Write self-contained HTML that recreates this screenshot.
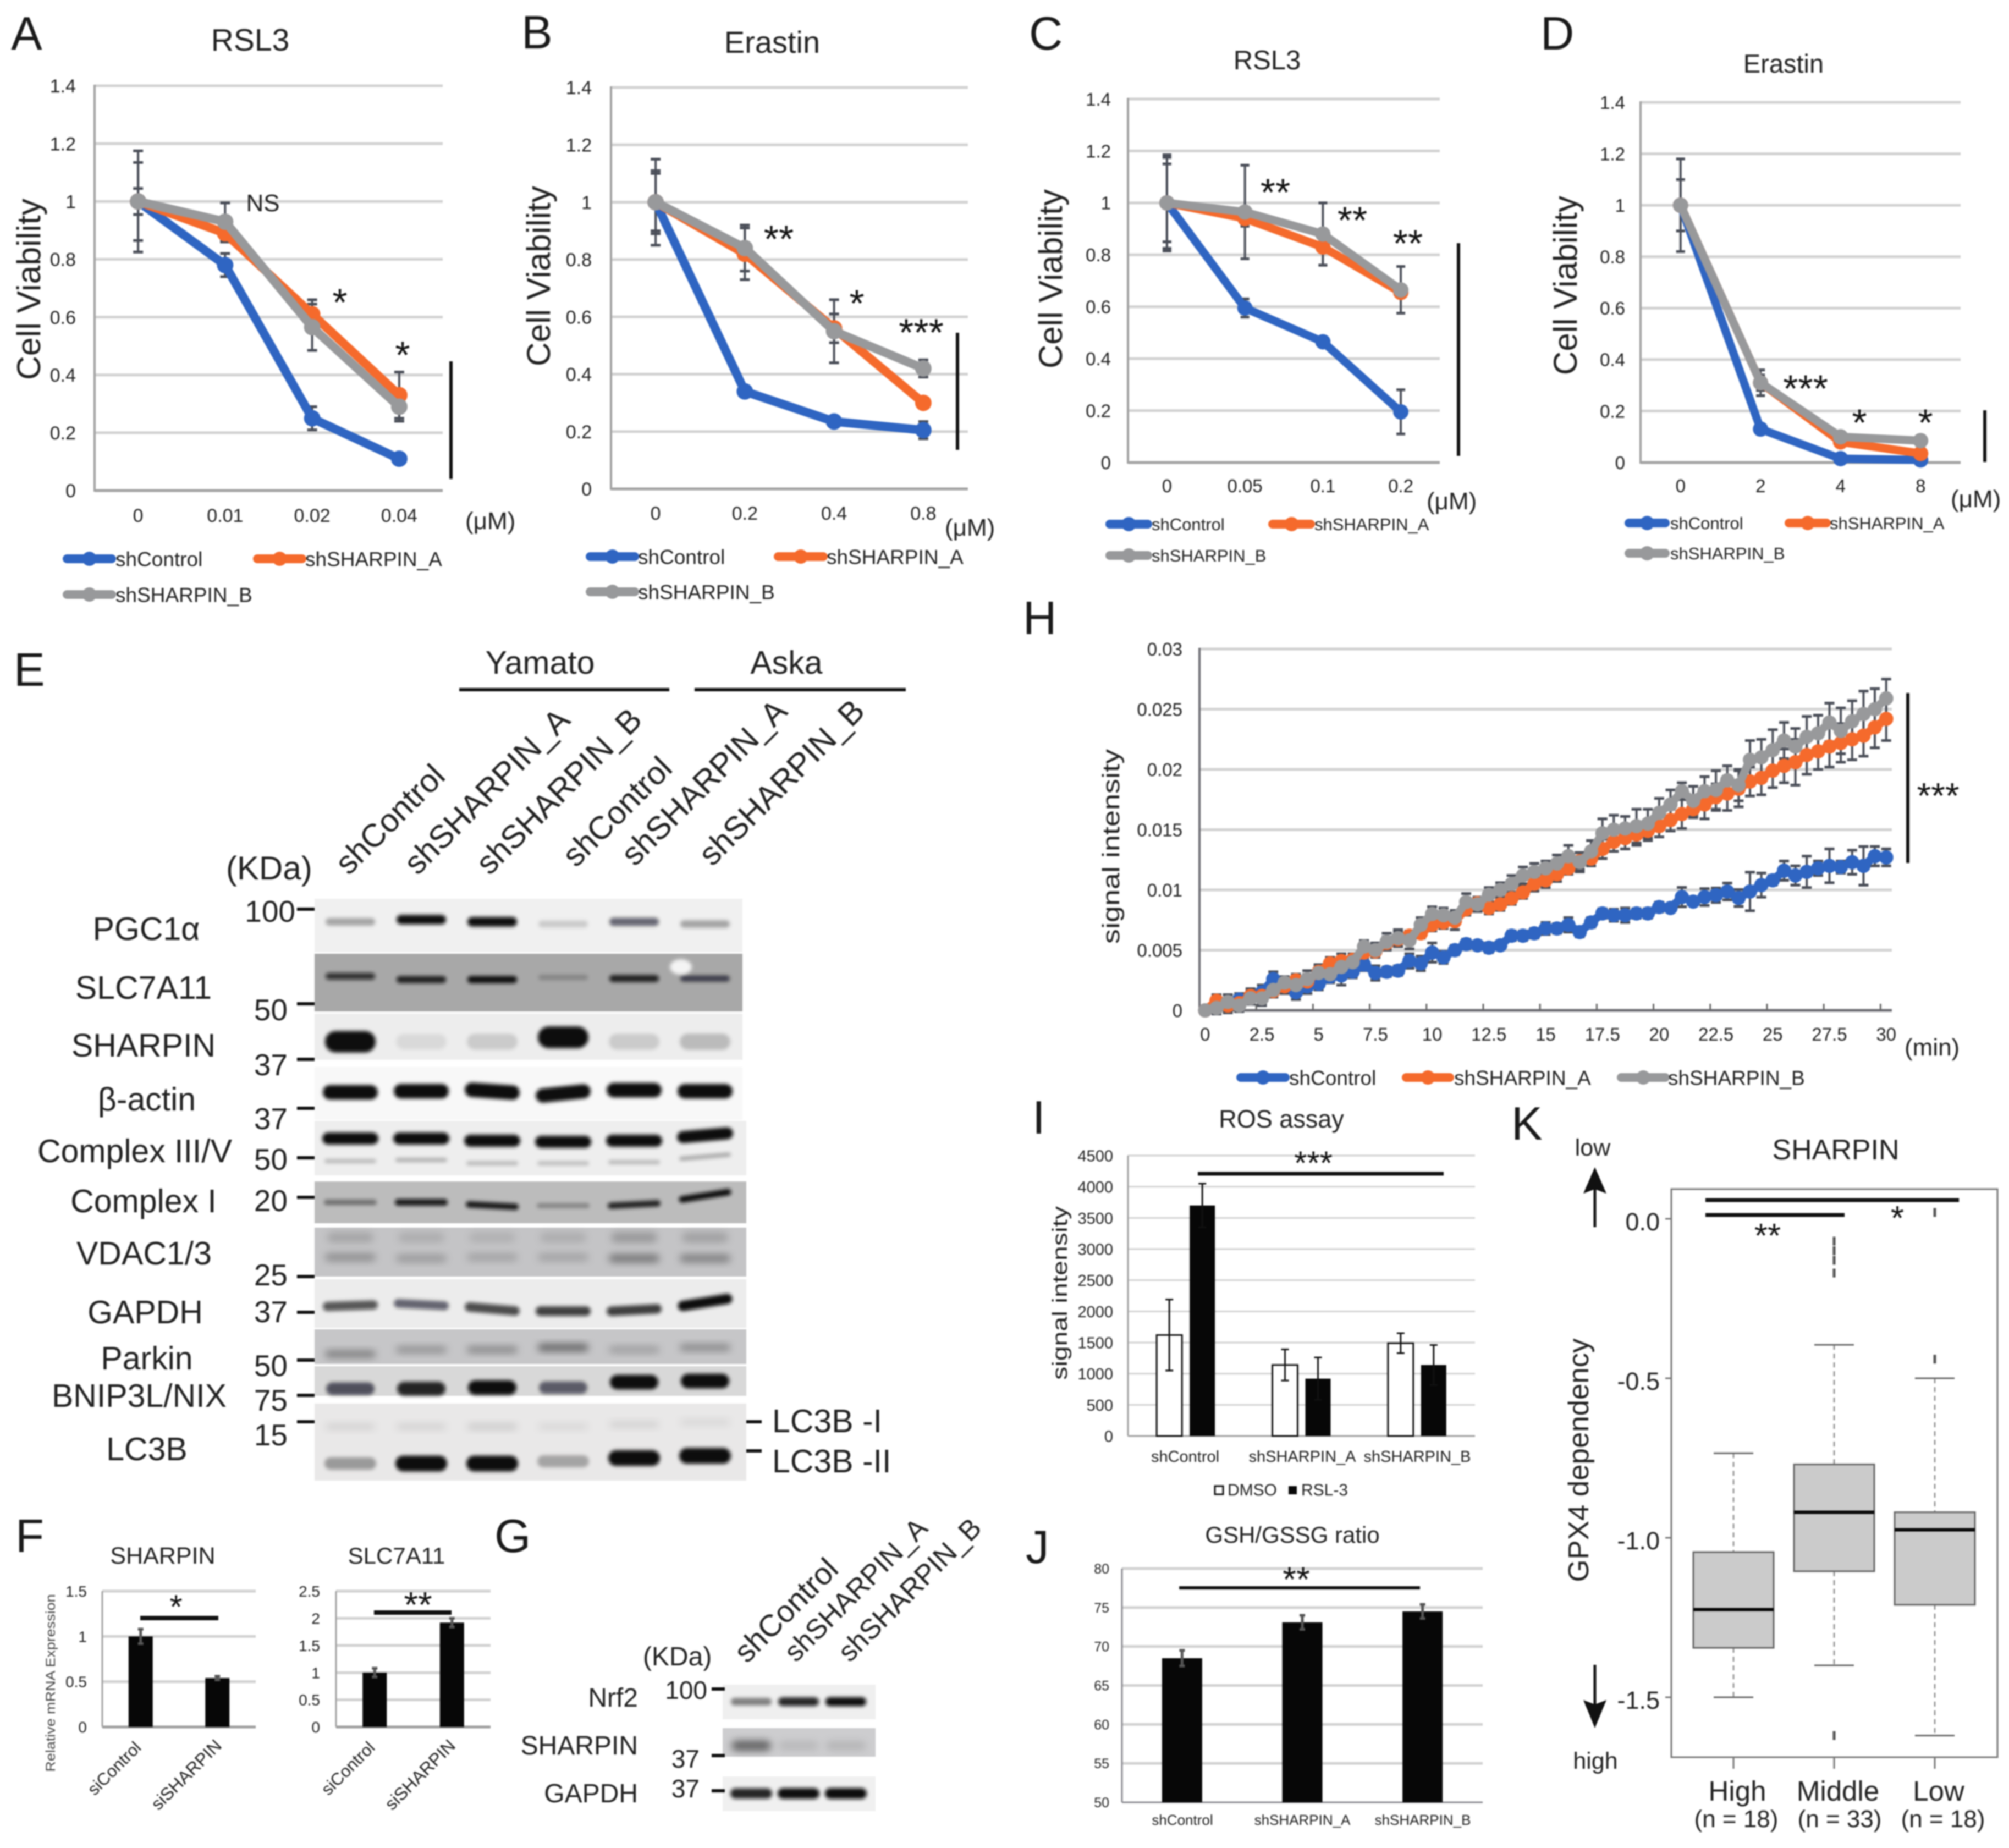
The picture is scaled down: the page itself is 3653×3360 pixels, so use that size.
<!DOCTYPE html>
<html lang="en">
<head>
<meta charset="utf-8">
<title>SHARPIN ferroptosis multi-panel figure</title>
<style>
html,body{margin:0;padding:0;background:#fff;width:3653px;height:3360px;overflow:hidden}
svg{display:block;filter:blur(1.2px)}
text{font-family:"Liberation Sans","DejaVu Sans",sans-serif;fill:#222}
</style>
</head>
<body>
<svg id="fig" xmlns="http://www.w3.org/2000/svg" width="3653" height="3360" viewBox="0 0 3653 3360">
<defs>
<filter id="b3" x="-30%" y="-80%" width="160%" height="260%"><feGaussianBlur stdDeviation="3.5"/></filter>
<filter id="b6" x="-30%" y="-80%" width="160%" height="260%"><feGaussianBlur stdDeviation="7"/></filter>
</defs>
<rect width="3653" height="3360" fill="#fff"/>
</svg>
<script>
/* ---------- chart data ---------- */
const viabilityTicks = ['0','0.2','0.4','0.6','0.8','1','1.2','1.4'];
const seriesNames = ['shControl','shSHARPIN_A','shSHARPIN_B'];

const catsA = ['0','0.01','0.02','0.04'];
const ctrlA = [1,0.78,0.25,0.11];
const shAA = [1,0.89,0.61,0.33];
const shBA = [1,0.93,0.565,0.29];
const errCtrlA = [0.135,0.04,0.04,0.01];
const errShAA = [0.045,0.03,0.05,0.08];
const errShBA = [0.175,0.065,0.08,0.05];

const catsB = ['0','0.2','0.4','0.8'];
const ctrlB = [1,0.34,0.235,0.205];
const shAB = [1,0.82,0.56,0.30];
const shBB = [1,0.84,0.55,0.42];
const errCtrlB = [0.11,0.01,0.01,0.03];
const errShAB = [0.10,0.09,0.05,0.01];
const errShBB = [0.15,0.08,0.11,0.03];

const catsC = ['0','0.05','0.1','0.2'];
const ctrlC = [1,0.595,0.465,0.195];
const shAC = [1,0.94,0.83,0.655];
const shBC = [1,0.965,0.88,0.665];
const errCtrlC = [0.15,0.035,0.01,0.085];
const errShAC = [0.175,0.03,0.07,0.01];
const errShBC = [0.185,0.18,0.12,0.09];

const catsD = ['0','2','4','8'];
const ctrlD = [1,0.13,0.015,0.01];
const shAD = [1,0.31,0.08,0.035];
const shBD = [1,0.31,0.10,0.085];
const errCtrlD = [0.10,0.01,0.01,0.005];
const errShAD = [0.01,0.05,0.01,0.01];
const errShBD = [0.18,0.03,0.015,0.01];

const ticksH = ['0','0.005','0.01','0.015','0.02','0.025','0.03'];
const catsH = ['0','2.5','5','7.5','10','12.5','15','17.5','20','22.5','25','27.5','30'];
const ctrlH = [0,.0003,.0006,.0009,.0011,.0015,.0026,.0020,.0015,.0020,
.0022,.0028,.0029,.0032,.0038,.0031,.0032,.0033,.0041,.0039,
.0048,.0044,.0050,.0055,.0054,.0052,.0054,.0062,.0062,.0064,
.0068,.0068,.0071,.0065,.0073,
.00805,.0079,.0079,.00805,.00805,.00858,.0085,.00941,.00903,.00941,.00956,.00987,.00933,.00987,.0104,.0108,.0116,.0112,.0115,.0118,.0120,.0119,.0123,.0120,.0128,.0127];
const shAH = [0,.0008,.0004,.0006,.0012,.0012,.0016,.0020,.0025,.0024,
.0032,.0039,.0041,.0042,.0048,.0049,.0056,.0059,.0062,.0064,
.0071,.0073,.0074,.0084,.0089,.0085,.0088,.0093,.0098,.0105,
.0108,.0113,.0118,.0124,.0126,
.0134,.0140,.0143,.0146,.0149,.0153,.0158,.0163,.0167,.0171,.0177,.0180,.0184,.0190,.0193,.0199,.0203,.0206,.0212,.0215,.0219,.0222,.0225,.0228,.0235,.0242];
const shBH = [0,.0002,.0007,.0004,.0010,.0010,.0017,.0023,.0021,.0026,
.0031,.0030,.0036,.0040,.0053,.0050,.0057,.0060,.0058,.0071,
.0080,.0079,.0077,.0090,.0088,.0096,.0100,.0105,.0112,.0115,
.0118,.0122,.0128,.0123,.0132,
.0147,.0150,.0151,.0153,.0155,.0164,.0171,.0182,.0174,.0182,.0183,.0191,.0187,.0208,.0210,.0216,.0224,.0219,.0227,.0230,.0239,.0232,.0240,.0246,.0250,.0259];
const errCtrlH = [.0002,.0004,.0004,.0005,.0006,.0006,.0006,.0006,.0006,.0006,
.0005,.0005,.0008,.0005,.0005,.0006,.0004,.0004,.0006,.0006,
.0008,.0005,.0004,.0004,.0003,.0004,.0003,.0004,.0004,.0004,
.0005,.0004,.0006,.0004,.0004,
.0004,.0005,.0006,.0004,.0004,.0004,.0003,.0008,.0003,.0007,.0006,.0007,.0007,.0016,.0010,.0004,.0008,.0008,.0013,.0006,.0014,.0005,.0010,.0016,.0008,.0007];
const errShAH = [.0003,.0005,.0006,.0005,.0006,.0006,.0005,.0005,.0005,.0006,
.0006,.0005,.0006,.0005,.0006,.0005,.0005,.0006,.0004,.0004,
.0005,.0005,.0007,.0005,.0004,.0005,.0005,.0005,.0005,.0006,
.0006,.0006,.0005,.0007,.0006,
.0008,.0008,.0009,.0009,.0008,.0009,.0009,.0012,.0007,.0012,.0011,.0014,.0015,.0012,.0014,.0014,.0014,.0019,.0016,.0015,.0017,.0016,.0017,.0017,.0017,.0018];
const errShBH = [.0003,.0005,.0006,.0005,.0005,.0006,.0006,.0005,.0008,.0007,
.0006,.0007,.0006,.0005,.0005,.0006,.0007,.0007,.0007,.0006,
.0006,.0006,.0006,.0007,.0006,.0006,.0006,.0007,.0007,.0007,
.0006,.0007,.0009,.0008,.0009,
.0012,.0012,.0010,.0014,.0012,.0012,.0012,.0007,.0012,.0012,.0016,.0012,.0013,.0016,.0015,.0017,.0015,.0015,.0017,.0015,.0016,.0019,.0017,.0019,.0017,.0016];

const catsF = ['siControl','siSHARPIN'];
const ticksF1 = ['0','0.5','1','1.5'];
const valsF1 = [1.0,0.54];
const errF1 = [0.08,0.02];
const ticksF2 = ['0','0.5','1','1.5','2','2.5'];
const valsF2 = [1.0,1.92];
const errF2 = [0.08,0.08];

const catsI = ['shControl','shSHARPIN_A','shSHARPIN_B'];
const ticksI = ['0','500','1000','1500','2000','2500','3000','3500','4000','4500'];
const dmsoI = [1620,1140,1490];
const rslI = [3700,920,1140];
const errDmsoI = [570,250,160];
const errRslI = [350,340,320];

const ticksJ = ['50','55','60','65','70','75','80'];
const valsJ = [68.5,73.1,74.5];
const errJ = [1.0,0.9,0.9];

const catsK = ['High','Middle','Low'];
const nK = ['(n = 18)','(n = 33)','(n = 18)'];
const ticksK = ['0.0','-0.5','-1.0','-1.5'];
const whiskHiK = [-0.735,-0.395,-0.5];
const q3K = [-1.045,-0.77,-0.92];
const medianK = [-1.225,-0.92,-0.975];
const q1K = [-1.345,-1.105,-1.21];
const whiskLoK = [-1.5,-1.4,-1.62];
const outliersHighK = [];
const outliersMiddleK = [-0.07,-0.10,-0.13,-0.17,-1.62];
const outliersLowK = [0.02,-0.44];

/* blot band intensities per lane */
const blotPGC = [.3,.95,1,.15,.55,.3];
const blotSLC = [.75,.85,.95,.2,.85,.6];
const blotSHARPIN = [.95,.08,.14,1,.14,.2];
const blotActin = [1,1,1,.95,1,1];
const blotComplex3 = [1,1,1,1,1,1];
const blotComplex3b = [.22,.25,.22,.2,.22,.28];
const blotComplex1 = [.4,.9,.9,.28,.85,1];
const blotVDAC = [.28,.22,.18,.18,.4,.35];
const blotVDACtop = [.16,.12,.1,.12,.22,.18];
const blotGAPDH = [.65,.55,.7,.75,.75,1];
const blotParkin = [.38,.28,.32,.5,.22,.32];
const blotBNIP = [.6,.85,1,.55,1,1];
const blotLC3I = [.1,.1,.13,.08,.1,.08];
const blotLC3II = [.32,1,1,.28,1,1];
const blotGNrf2 = [.45,.85,.95];
const blotGSharpin = [.5,.1,.12];
const blotGGapdh = [.85,.95,1];

/* ---------- helpers ---------- */
const NS = 'http://www.w3.org/2000/svg';
const root = document.getElementById('fig');
const BLUE = '#2f65c2', ORANGE = '#f56a2c', GRAY = '#98999b', GRID = '#d2d2d2', AXIS = '#a2a2a2', ERR = '#4a4e58';

function mark(parent, tag, name, attrs) {
  const el = document.createElementNS(NS, tag);
  
  
  for (const k in attrs) el.setAttribute(k, attrs[k]);
  parent.appendChild(el);
  return el;
}
function group(parent, name) { return mark(parent, 'g', name, {}); }
function seg(p, name, x1, y1, x2, y2, stroke, w, extra) {
  return mark(p, 'line', name, Object.assign({x1, y1, x2, y2, stroke, 'stroke-width': w}, extra || {}));
}
function txt(p, name, s, x, y, size, anchor, opt) {
  opt = opt || {};
  const a = {x, y, 'font-size': size, 'text-anchor': anchor || 'start'};
  if (opt.rot !== undefined) a.transform = 'rotate(' + opt.rot + ' ' + x + ' ' + y + ')';
  if (opt.len) { a.textLength = opt.len; a.lengthAdjust = 'spacingAndGlyphs'; }
  if (opt.fill) a.style = 'fill:' + opt.fill;
  const el = mark(p, 'text', name, a);
  el.textContent = s;
  return el;
}
function stars(p, s, cx, cy, size) {
  size = size || 70;
  return txt(p, 'significance-stars', s, cx, cy + size * 0.48, size, 'middle', {fill: '#111'});
}
function sigLine(p, x1, y1, x2, y2, w) { return seg(p, 'significance-bar', x1, y1, x2, y2, '#111', w || 6); }
function panelLetter(s, x, y) { return txt(root, 'panel-label-' + s.toLowerCase(), s, x, y, 85, 'start', {fill: '#1a1a1a'}); }

/* ---------- line charts ---------- */
function lineChart(c) {
  const g = group(root, 'line-chart-' + c.id);
  const n = c.series[0].vals.length;
  const band = (c.right - c.left) / n;
  const xS = i => c.left + (i + 0.5) * band;
  const yS = v => c.bottom - (v / c.ymax) * (c.bottom - c.top);
  c.ticks.forEach((t, i) => {
    const v = parseFloat(t), y = yS(v);
    if (v > 0) seg(g, 'gridline', c.left, y, c.right, y, GRID, 5);
    txt(g, 'y-tick-label', t, c.tickRight, y + c.tickSize * 0.36, c.tickSize, 'end');
  });
  seg(g, 'y-axis', c.left, c.top - 2, c.left, c.bottom + 2, c.axisColor || AXIS, 4);
  seg(g, 'x-axis', c.left, c.bottom, c.right, c.bottom, c.axisColor || AXIS, 5);
  if (c.everyTick) {
    for (let i = 1; i * c.everyTick <= n; i++) {
      const x = c.left + i * c.everyTick * band;
      seg(g, 'x-tick', x, c.bottom - 12, x, c.bottom, '#666', 3);
    }
  }
  c.cats.forEach((t, i) => {
    const idx = c.everyTick ? i * c.everyTick : i;
    txt(g, 'x-tick-label', t, xS(idx), c.xLabelY, c.tickSize, 'middle');
  });
  const errLayer = group(g, 'error-bars');
  c.series.forEach(s => {
    s.vals.forEach((v, i) => {
      const x = xS(i), e = s.errs[i];
      seg(errLayer, 'error-bar', x, yS(v + e), x, yS(v - e), ERR, 4);
      seg(errLayer, 'error-cap', x - c.cap, yS(v + e), x + c.cap, yS(v + e), ERR, 5);
      seg(errLayer, 'error-cap', x - c.cap, yS(v - e), x + c.cap, yS(v - e), ERR, 5);
    });
  });
  c.series.forEach(s => {
    const sg = group(g, 'series-' + s.name);
    const pts = s.vals.map((v, i) => xS(i).toFixed(1) + ',' + yS(v).toFixed(1)).join(' ');
    mark(sg, 'polyline', 'line-' + s.name, {points: pts, fill: 'none', stroke: s.color, 'stroke-width': c.lw, 'stroke-linejoin': 'round'});
    s.vals.forEach((v, i) => {
      mark(sg, 'circle', 'point-' + s.name, {cx: xS(i), cy: yS(v), r: c.r, fill: s.color});
    });
  });
  return g;
}
function legendEntry(p, name, color, x1, x2, y, size, tx) {
  const g = group(p, 'legend-entry-' + name);
  seg(g, 'legend-line', x1, y, x2, y, color, 16, {'stroke-linecap': 'round'});
  mark(g, 'circle', 'legend-marker', {cx: (x1 + x2) / 2, cy: y, r: 13, fill: color});
  txt(g, 'legend-label', name, tx, y + size * 0.36, size, 'start');
}
function series3(c, a, b, ec, ea, eb) {
  return [
    {name: seriesNames[0], vals: c, errs: ec, color: BLUE},
    {name: seriesNames[1], vals: a, errs: ea, color: ORANGE},
    {name: seriesNames[2], vals: b, errs: eb, color: GRAY}
  ];
}

/* Panel A */
panelLetter('A', 20, 90);
txt(root, 'chart-title-a', 'RSL3', 455, 92, 57, 'middle');
txt(root, 'y-axis-title-a', 'Cell Viability', 73, 526, 60, 'middle', {rot: -90, len: 330});
lineChart({id: 'a', left: 172, right: 805, top: 156, bottom: 892, ymax: 1.4, ticks: viabilityTicks, cats: catsA, tickRight: 138, tickSize: 34, xLabelY: 949, cap: 9, lw: 16, r: 15, series: series3(ctrlA, shAA, shBA, errCtrlA, errShAA, errShBA)});
txt(root, 'x-unit-a', '(μM)', 846, 962, 44);
txt(root, 'ns-label', 'NS', 478, 384, 44, 'middle');
stars(root, '*', 618, 540); stars(root, '*', 732, 636);
sigLine(root, 820, 657, 820, 871, 6);
legendEntry(root, 'shControl', BLUE, 122, 203, 1016, 37, 210);
legendEntry(root, 'shSHARPIN_A', ORANGE, 468, 549, 1016, 37, 555);
legendEntry(root, 'shSHARPIN_B', GRAY, 122, 203, 1081, 37, 210);

/* Panel B */
panelLetter('B', 948, 88);
txt(root, 'chart-title-b', 'Erastin', 1404, 96, 56, 'middle');
txt(root, 'y-axis-title-b', 'Cell Viability', 1000, 502, 60, 'middle', {rot: -90, len: 328});
lineChart({id: 'b', left: 1111, right: 1760, top: 159, bottom: 889, ymax: 1.4, ticks: viabilityTicks, cats: catsB, tickRight: 1076, tickSize: 34, xLabelY: 945, cap: 9, lw: 16, r: 15, series: series3(ctrlB, shAB, shBB, errCtrlB, errShAB, errShBB)});
txt(root, 'x-unit-b', '(μM)', 1718, 974, 44);
stars(root, '**', 1416, 425); stars(root, '*', 1558, 542); stars(root, '***', 1675, 595);
sigLine(root, 1741, 605, 1741, 818, 6);
legendEntry(root, 'shControl', BLUE, 1073, 1154, 1012, 37, 1160);
legendEntry(root, 'shSHARPIN_A', ORANGE, 1415, 1497, 1012, 37, 1503);
legendEntry(root, 'shSHARPIN_B', GRAY, 1073, 1154, 1076, 37, 1160);

/* Panel C */
panelLetter('C', 1871, 90);
txt(root, 'chart-title-c', 'RSL3', 2304, 126, 49, 'middle');
txt(root, 'y-axis-title-c', 'Cell Viability', 1931, 507, 60, 'middle', {rot: -90, len: 326});
lineChart({id: 'c', left: 2051, right: 2618, top: 180, bottom: 841, ymax: 1.4, ticks: viabilityTicks, cats: catsC, tickRight: 2020, tickSize: 33, xLabelY: 895, cap: 8, lw: 15, r: 14, series: series3(ctrlC, shAC, shBC, errCtrlC, errShAC, errShBC)});
txt(root, 'x-unit-c', '(μM)', 2594, 926, 44);
stars(root, '**', 2319, 340); stars(root, '**', 2459, 391); stars(root, '**', 2560, 433);
sigLine(root, 2652, 442, 2652, 829, 6);
legendEntry(root, 'shControl', BLUE, 2018, 2087, 953, 31, 2094);
legendEntry(root, 'shSHARPIN_A', ORANGE, 2314, 2383, 953, 31, 2390);
legendEntry(root, 'shSHARPIN_B', GRAY, 2018, 2087, 1010, 31, 2094);

/* Panel D */
panelLetter('D', 2801, 90);
txt(root, 'chart-title-d', 'Erastin', 3243, 132, 47, 'middle');
txt(root, 'y-axis-title-d', 'Cell Viability', 2867, 519, 60, 'middle', {rot: -90, len: 326});
lineChart({id: 'd', left: 2983, right: 3565, top: 186, bottom: 841, ymax: 1.4, ticks: viabilityTicks, cats: catsD, tickRight: 2955, tickSize: 33, xLabelY: 895, cap: 8, lw: 15, r: 14, series: series3(ctrlD, shAD, shBD, errCtrlD, errShAD, errShBD)});
txt(root, 'x-unit-d', '(μM)', 3547, 922, 44);
stars(root, '***', 3283, 697); stars(root, '*', 3381, 759); stars(root, '*', 3501, 759);
sigLine(root, 3609, 746, 3609, 840, 6);
legendEntry(root, 'shControl', BLUE, 2962, 3028, 951, 31, 3037);
legendEntry(root, 'shSHARPIN_A', ORANGE, 3253, 3321, 951, 31, 3327);
legendEntry(root, 'shSHARPIN_B', GRAY, 2962, 3028, 1006, 31, 3037);

/* Panel H */
panelLetter('H', 1860, 1153);
txt(root, 'y-axis-title-h', 'signal intensity', 2035, 1539, 44, 'middle', {rot: -90, len: 354});
lineChart({id: 'h', left: 2181, right: 3440, top: 1180, bottom: 1837, ymax: 0.03, ticks: ticksH, cats: catsH, everyTick: 5, tickRight: 2150, tickSize: 33, xLabelY: 1892, cap: 9, lw: 15, r: 13, axisColor: '#6e6e74', series: series3(ctrlH, shAH, shBH, errCtrlH, errShAH, errShBH)});
txt(root, 'x-unit-h', '(min)', 3463, 1919, 44);
sigLine(root, 3469, 1260, 3469, 1569, 6);
stars(root, '***', 3524, 1438, 66);
legendEntry(root, 'shControl', BLUE, 2256, 2337, 1959, 37, 2344);
legendEntry(root, 'shSHARPIN_A', ORANGE, 2557, 2636, 1959, 37, 2644);
legendEntry(root, 'shSHARPIN_B', GRAY, 2948, 3028, 1959, 37, 3033);

/* ---------- bar charts ---------- */
function barChart(c) {
  const g = group(root, 'bar-chart-' + c.id);
  const n = c.groups.length;
  const band = (c.right - c.left) / n;
  const yS = v => c.bottom - ((v - c.ymin) / (c.ymax - c.ymin)) * (c.bottom - c.top);
  c.ticks.forEach(t => {
    const v = parseFloat(t), y = yS(v);
    if (v > c.ymin) seg(g, 'gridline', c.left, y, c.right, y, c.gridColor || GRID, c.gridW || 5);
    txt(g, 'y-tick-label', t, c.tickRight, y + c.tickSize * 0.36, c.tickSize, 'end');
  });
  seg(g, 'y-axis', c.left, c.top, c.left, c.bottom, c.axisColor || AXIS, c.axisW || 3);
  seg(g, 'x-axis', c.left, c.bottom, c.right, c.bottom, c.axisColor || AXIS, c.baseW || 5);
  c.groups.forEach((name, i) => {
    const gc = c.left + (i + 0.5) * band;
    c.series.forEach((s, k) => {
      const x = gc + (c.offsets ? c.offsets[k] : 0);
      const v = s.vals[i], e = s.errs[i];
      mark(g, 'rect', 'bar-' + s.name + '-' + name, {x: x - c.barW / 2, y: yS(v), width: c.barW, height: c.bottom - yS(v), fill: s.fill, stroke: s.stroke || 'none', 'stroke-width': s.stroke ? 3 : 0});
      seg(g, 'error-bar', x, yS(v + e), x, yS(v - e), c.errColor, c.errW);
      seg(g, 'error-cap', x - c.cap, yS(v + e), x + c.cap, yS(v + e), c.errColor, c.errW);
      seg(g, 'error-cap', x - c.cap, yS(v - e), x + c.cap, yS(v - e), c.errColor, c.errW);
    });
  });
  return g;
}

/* Panel F */
panelLetter('F', 28, 2822);
txt(root, 'chart-title-f1', 'SHARPIN', 296, 2843, 43, 'middle');
txt(root, 'chart-title-f2', 'SLC7A11', 721, 2843, 42, 'middle');
txt(root, 'y-axis-title-f', 'Relative mRNA Expression', 100, 3060, 24, 'middle', {rot: -90, len: 323, fill: '#444'});
barChart({id: 'f1', left: 186, right: 465, top: 2893, bottom: 3140, ymin: 0, ymax: 1.5, ticks: ticksF1, groups: catsF, tickRight: 158, tickSize: 28, barW: 44, cap: 5, errColor: '#555', errW: 5,
  series: [{name: 'expression', vals: valsF1, errs: errF1, fill: '#070707'}]});
barChart({id: 'f2', left: 611, right: 892, top: 2893, bottom: 3140, ymin: 0, ymax: 2.5, ticks: ticksF2, groups: catsF, tickRight: 582, tickSize: 28, barW: 44, cap: 5, errColor: '#555', errW: 5,
  series: [{name: 'expression', vals: valsF2, errs: errF2, fill: '#070707'}]});
txt(root, 'x-tick-label', catsF[0], 172, 3266, 31, 'start', {rot: -45});
txt(root, 'x-tick-label', catsF[1], 288, 3293, 32, 'start', {rot: -45});
txt(root, 'x-tick-label', catsF[0], 597, 3266, 31, 'start', {rot: -45});
txt(root, 'x-tick-label', catsF[1], 713, 3293, 32, 'start', {rot: -45});
stars(root, '*', 320, 2913, 60); sigLine(root, 255, 2942, 397, 2942, 8);
stars(root, '**', 760, 2909, 66); sigLine(root, 680, 2932, 821, 2932, 8);

/* Panel I */
panelLetter('I', 1877, 2061);
txt(root, 'chart-title-i', 'ROS assay', 2330, 2050, 45, 'middle');
txt(root, 'y-axis-title-i', 'signal intensity', 1940, 2351, 38, 'middle', {rot: -90, len: 316});
barChart({id: 'i', left: 2051, right: 2682, top: 2101, bottom: 2611, ymin: 0, ymax: 4500, ticks: ticksI, groups: catsI, tickRight: 2024, tickSize: 29, barW: 46, offsets: [-30, 30], cap: 7, errColor: '#111', errW: 3, gridW: 3, axisW: 3, baseW: 3,
  series: [
    {name: 'DMSO', vals: dmsoI, errs: errDmsoI, fill: '#fff', stroke: '#111'},
    {name: 'RSL-3', vals: rslI, errs: errRslI, fill: '#070707'}
  ]});
catsI.forEach((c, i) => {
  txt(root, 'x-tick-label', c, [2155, 2368, 2577][i], 2658, 29, 'middle');
});
mark(root, 'rect', 'legend-swatch-dmso', {x: 2209, y: 2702, width: 15, height: 15, fill: '#fff', stroke: '#111', 'stroke-width': 3});
txt(root, 'legend-label-dmso', 'DMSO', 2232, 2719, 30);
mark(root, 'rect', 'legend-swatch-rsl3', {x: 2343, y: 2702, width: 15, height: 15, fill: '#070707'});
txt(root, 'legend-label-rsl3', 'RSL-3', 2366, 2719, 30);
sigLine(root, 2178, 2134, 2625, 2134, 7);
stars(root, '***', 2388, 2106, 60);

/* Panel J */
panelLetter('J', 1865, 2842);
txt(root, 'chart-title-j', 'GSH/GSSG ratio', 2350, 2805, 42, 'middle');
barChart({id: 'j', left: 2040, right: 2696, top: 2852, bottom: 3277, ymin: 50, ymax: 80, ticks: ticksJ, groups: catsI, tickRight: 2017, tickSize: 25, barW: 73, cap: 5, errColor: '#555', errW: 5, gridW: 5, axisW: 3, baseW: 3, axisColor: '#8a8a90',
  series: [{name: 'ratio', vals: valsJ, errs: errJ, fill: '#070707'}]});
catsI.forEach((c, i) => {
  txt(root, 'x-tick-label', c, [2150, 2368, 2587][i], 3318, 26, 'middle');
});
sigLine(root, 2144, 2887, 2582, 2887, 6);
stars(root, '**', 2357, 2863, 64);

/* ---------- Panel K boxplot ---------- */
panelLetter('K', 2748, 2072);
(function () {
  const g = group(root, 'boxplot-k');
  const yS = v => 2216 - v * 580;
  const xS = i => 3152 + i * 183;
  const halfBox = 73, halfCap = 36;
  txt(g, 'chart-title-k', 'SHARPIN', 3338, 2108, 52, 'middle');
  mark(g, 'rect', 'plot-frame', {x: 3039, y: 2162, width: 593, height: 1033, fill: 'none', stroke: '#777', 'stroke-width': 3});
  ticksK.forEach(t => {
    const y = yS(parseFloat(t));
    seg(g, 'y-tick', 3028, y, 3039, y, '#777', 3);
    txt(g, 'y-tick-label', t, 3018, y + 21, 45, 'end');
  });
  const outs = [outliersHighK, outliersMiddleK, outliersLowK];
  catsK.forEach((c, i) => {
    const x = xS(i);
    seg(g, 'whisker-upper', x, yS(whiskHiK[i]), x, yS(q3K[i]), '#888', 2.5, {'stroke-dasharray': '9 7'});
    seg(g, 'whisker-lower', x, yS(q1K[i]), x, yS(whiskLoK[i]), '#888', 2.5, {'stroke-dasharray': '9 7'});
    seg(g, 'whisker-cap', x - halfCap, yS(whiskHiK[i]), x + halfCap, yS(whiskHiK[i]), '#666', 3);
    seg(g, 'whisker-cap', x - halfCap, yS(whiskLoK[i]), x + halfCap, yS(whiskLoK[i]), '#666', 3);
    mark(g, 'rect', 'box-' + c.toLowerCase(), {x: x - halfBox, y: yS(q3K[i]), width: 2 * halfBox, height: yS(q1K[i]) - yS(q3K[i]), fill: '#cbcbcb', stroke: '#666', 'stroke-width': 3});
    seg(g, 'median-' + c.toLowerCase(), x - halfBox, yS(medianK[i]), x + halfBox, yS(medianK[i]), '#050505', 6);
    outs[i].forEach(v => {
      mark(g, 'rect', 'outlier', {x: x - 2.5, y: yS(v) - 8, width: 5, height: 16, fill: '#555'});
    });
    seg(g, 'x-tick', x, 3195, x, 3216, '#777', 3);
    txt(g, 'x-tick-label', c, x + 7, 3274, 51, 'middle');
    txt(g, 'sample-size-label', nK[i], x + [5, 10, 15][i], 3322, 44, 'middle');
  });
  txt(g, 'y-axis-title-k', 'GPX4 dependency', 2888, 2655, 52, 'middle', {rot: -90, len: 443});
  txt(g, 'arrow-label-low', 'low', 2896, 2101, 43, 'middle');
  txt(g, 'arrow-label-high', 'high', 2901, 3216, 43, 'middle');
  seg(g, 'arrow-up-shaft', 2900, 2160, 2900, 2231, '#111', 5);
  mark(g, 'path', 'arrow-up-head', {d: 'M2900 2122 L2921 2170 L2900 2162 L2879 2170 Z', fill: '#111'});
  seg(g, 'arrow-down-shaft', 2900, 3027, 2900, 3100, '#111', 5);
  mark(g, 'path', 'arrow-down-head', {d: 'M2900 3142 L2921 3091 L2900 3099 L2879 3091 Z', fill: '#111'});
  sigLine(g, 3101, 2182, 3562, 2182, 7);
  sigLine(g, 3101, 2209, 3354, 2209, 7);
  stars(g, '**', 3214, 2238, 62);
  stars(g, '*', 3450, 2206, 62);
})();

/* ---------- Western blots ---------- */
function blotRow(p, name, x, y, w, h, bg) {
  return mark(p, 'rect', 'blot-' + name, {x, y, width: w, height: h, fill: bg});
}
function bands(p, name, intens, laneX, y, dy, h, w, blur, tilt) {
  intens.forEach((v, i) => {
    const hh = h * (0.75 + 0.35 * v);
    const yc = y + (dy ? dy[i] : 0);
    const a = {
      x: laneX(i) - w / 2, y: yc - hh / 2, width: w, height: hh,
      rx: hh / 2, fill: '#0a0a0c', 'fill-opacity': Math.min(1, v * 1.05), filter: 'url(#' + (blur || 'b3') + ')'
    };
    if (tilt && tilt[i]) a.transform = 'rotate(' + tilt[i] + ' ' + laneX(i) + ' ' + yc + ')';
    mark(p, 'rect', 'band-' + name, a);
  });
}
(function () {
  panelLetter('E', 25, 1247);
  const g = group(root, 'western-blot-e');
  const laneE = i => 637 + i * 129;
  txt(g, 'cell-line-label-yamato', 'Yamato', 982, 1225, 59, 'middle');
  seg(g, 'cell-line-bar-yamato', 835, 1254, 1217, 1254, '#111', 6);
  txt(g, 'cell-line-label-aska', 'Aska', 1430, 1225, 59, 'middle');
  seg(g, 'cell-line-bar-aska', 1263, 1254, 1647, 1254, '#111', 6);
  const laneNames = ['shControl','shSHARPIN_A','shSHARPIN_B','shControl','shSHARPIN_A','shSHARPIN_B'];
  const laneStartX = [634, 759, 890, 1047, 1154, 1295];
  const laneStartY = [1593, 1593, 1593, 1579, 1577, 1577];
  laneNames.forEach((s, i) => {
    txt(g, 'lane-label', s, laneStartX[i], laneStartY[i], 59, 'start', {rot: -45});
  });
  txt(g, 'kda-label', '(KDa)', 411, 1599, 60);

  blotRow(g, 'pgc1a', 572, 1634, 778, 97, '#f0f0f0');
  blotRow(g, 'slc7a11', 572, 1734, 778, 105, '#a8a8a8');
  blotRow(g, 'sharpin', 572, 1843, 778, 84, '#ededed');
  blotRow(g, 'actin', 572, 1940, 778, 96, '#f8f8f8');
  blotRow(g, 'complex3', 572, 2038, 785, 99, '#eeeeee');
  blotRow(g, 'complex1', 572, 2148, 785, 76, '#bcbcbc');
  blotRow(g, 'vdac', 572, 2232, 785, 89, '#c4c4c6');
  blotRow(g, 'gapdh', 572, 2326, 785, 88, '#ececec');
  blotRow(g, 'parkin', 572, 2417, 785, 63, '#c6c6c8');
  blotRow(g, 'bnip3l', 572, 2484, 785, 54, '#d8d8d8');
  blotRow(g, 'lc3b', 572, 2552, 785, 140, '#e9e8e8');

  bands(g, 'pgc1a', blotPGC, laneE, 1676, [0,-4,0,4,0,4], 16, 90);
  bands(g, 'slc7a11', blotSLC, laneE, 1779, [-4,2,2,-2,0,0], 12, 90);
  mark(g, 'ellipse', 'blot-artifact', {cx: 1238, cy: 1758, rx: 20, ry: 14, fill: '#f4f4f4', filter: 'url(#b3)'});
  bands(g, 'sharpin', blotSHARPIN, laneE, 1894, [0,0,0,-8,0,0], 36, 92, 'b3');
  bands(g, 'actin', blotActin, laneE, 1984, [2,0,0,4,-2,0], 24, 100, 'b3', [0,0,4,-6,0,0]);
  bands(g, 'complex3', blotComplex3, laneE, 2072, [-2,-2,2,4,2,-8], 20, 102, 'b3', [0,0,0,0,0,-5]);
  bands(g, 'complex3-lower', blotComplex3b, laneE, 2111, [0,-2,4,4,2,-8], 9, 94, 'b3', [0,0,0,0,0,-5]);
  bands(g, 'complex1', blotComplex1, laneE, 2188, [-2,-2,4,4,2,-14], 11, 96, 'b3', [0,0,3,0,-3,-9]);
  bands(g, 'vdac-upper', blotVDACtop, laneE, 2250, null, 22, 84, 'b6');
  bands(g, 'vdac', blotVDAC, laneE, 2286, [0,2,0,0,2,2], 16, 92, 'b6');
  bands(g, 'gapdh', blotGAPDH, laneE, 2376, [-2,-4,4,8,6,-8], 17, 100, 'b3', [-2,3,5,0,-3,-9]);
  bands(g, 'parkin', blotParkin, laneE, 2454, [8,0,0,-4,0,-4], 14, 92, 'b6');
  bands(g, 'bnip3l', blotBNIP, laneE, 2525, [0,0,-2,-2,-12,-14], 24, 88);
  bands(g, 'lc3b-i', blotLC3I, laneE, 2594, [0,0,0,0,-4,-8], 14, 90, 'b6');
  bands(g, 'lc3b-ii', blotLC3II, laneE, 2661, [0,0,0,-4,-10,-14], 26, 94);

  const proteinNames = ['PGC1α','SLC7A11','SHARPIN','β-actin','Complex III/V','Complex I','VDAC1/3','GAPDH','Parkin','BNIP3L/NIX','LC3B'];
  const proteinX = [266, 261, 261, 267, 245, 261, 262, 264, 267, 253, 267];
  const proteinY = [1709, 1816, 1921, 2019, 2113, 2204, 2299, 2406, 2490, 2558, 2655];
  proteinNames.forEach((s, i) => {
    txt(g, 'protein-label', s, proteinX[i], proteinY[i], 59, 'middle');
  });
  const mw = ['100','50','37','37','50','20','25','37','50','75','15'];
  const mwBase = [1676, 1855, 1955, 2053, 2127, 2202, 2337, 2404, 2502, 2565, 2628];
  const mwTick = [1653, 1825, 1926, 2015, 2105, 2177, 2321, 2386, 2473, 2537, 2585];
  mw.forEach((s, i) => {
    txt(g, 'mw-label', s, i === 0 ? 537 : 523, mwBase[i], 55, 'end');
    seg(g, 'mw-tick', 540, mwTick[i], 572, mwTick[i], '#111', 6);
  });
  seg(g, 'lc3b-i-tick', 1357, 2585, 1385, 2585, '#111', 6);
  seg(g, 'lc3b-ii-tick', 1357, 2638, 1385, 2638, '#111', 6);
  txt(g, 'lc3b-i-label', 'LC3B -I', 1404, 2604, 59);
  txt(g, 'lc3b-ii-label', 'LC3B -II', 1404, 2677, 59);
})();

/* Panel G */
(function () {
  panelLetter('G', 899, 2822);
  const g = group(root, 'western-blot-g');
  const laneG = i => 1366 + i * 86;
  txt(g, 'kda-label', '(KDa)', 1169, 3028, 48);
  txt(g, 'lane-label', 'shControl', 1358, 3026, 56, 'start', {rot: -45});
  txt(g, 'lane-label', 'shSHARPIN_A', 1447, 3024, 51, 'start', {rot: -45});
  txt(g, 'lane-label', 'shSHARPIN_B', 1545, 3024, 51, 'start', {rot: -45});
  blotRow(g, 'nrf2', 1314, 3063, 278, 63, '#efefef');
  blotRow(g, 'sharpin', 1314, 3142, 278, 52, '#cdcdcf');
  blotRow(g, 'gapdh', 1314, 3230, 278, 63, '#f0f0f0');
  bands(g, 'nrf2', blotGNrf2, laneG, 3094, [0,0,0], 15, 74);
  bands(g, 'sharpin', blotGSharpin, laneG, 3174, [0,0,0], 20, 72, 'b6');
  bands(g, 'gapdh', blotGGapdh, laneG, 3261, [0,0,0], 18, 76);
  txt(g, 'protein-label', 'Nrf2', 1160, 3103, 48, 'end');
  txt(g, 'protein-label', 'SHARPIN', 1160, 3190, 48, 'end');
  txt(g, 'protein-label', 'GAPDH', 1160, 3277, 48, 'end');
  txt(g, 'mw-label', '100', 1286, 3089, 46, 'end');
  txt(g, 'mw-label', '37', 1272, 3214, 46, 'end');
  txt(g, 'mw-label', '37', 1272, 3268, 46, 'end');
  seg(g, 'mw-tick', 1294, 3071, 1318, 3071, '#111', 6);
  seg(g, 'mw-tick', 1294, 3192, 1318, 3192, '#111', 6);
  seg(g, 'mw-tick', 1294, 3256, 1318, 3256, '#111', 6);
})();
</script>
</body>
</html>
